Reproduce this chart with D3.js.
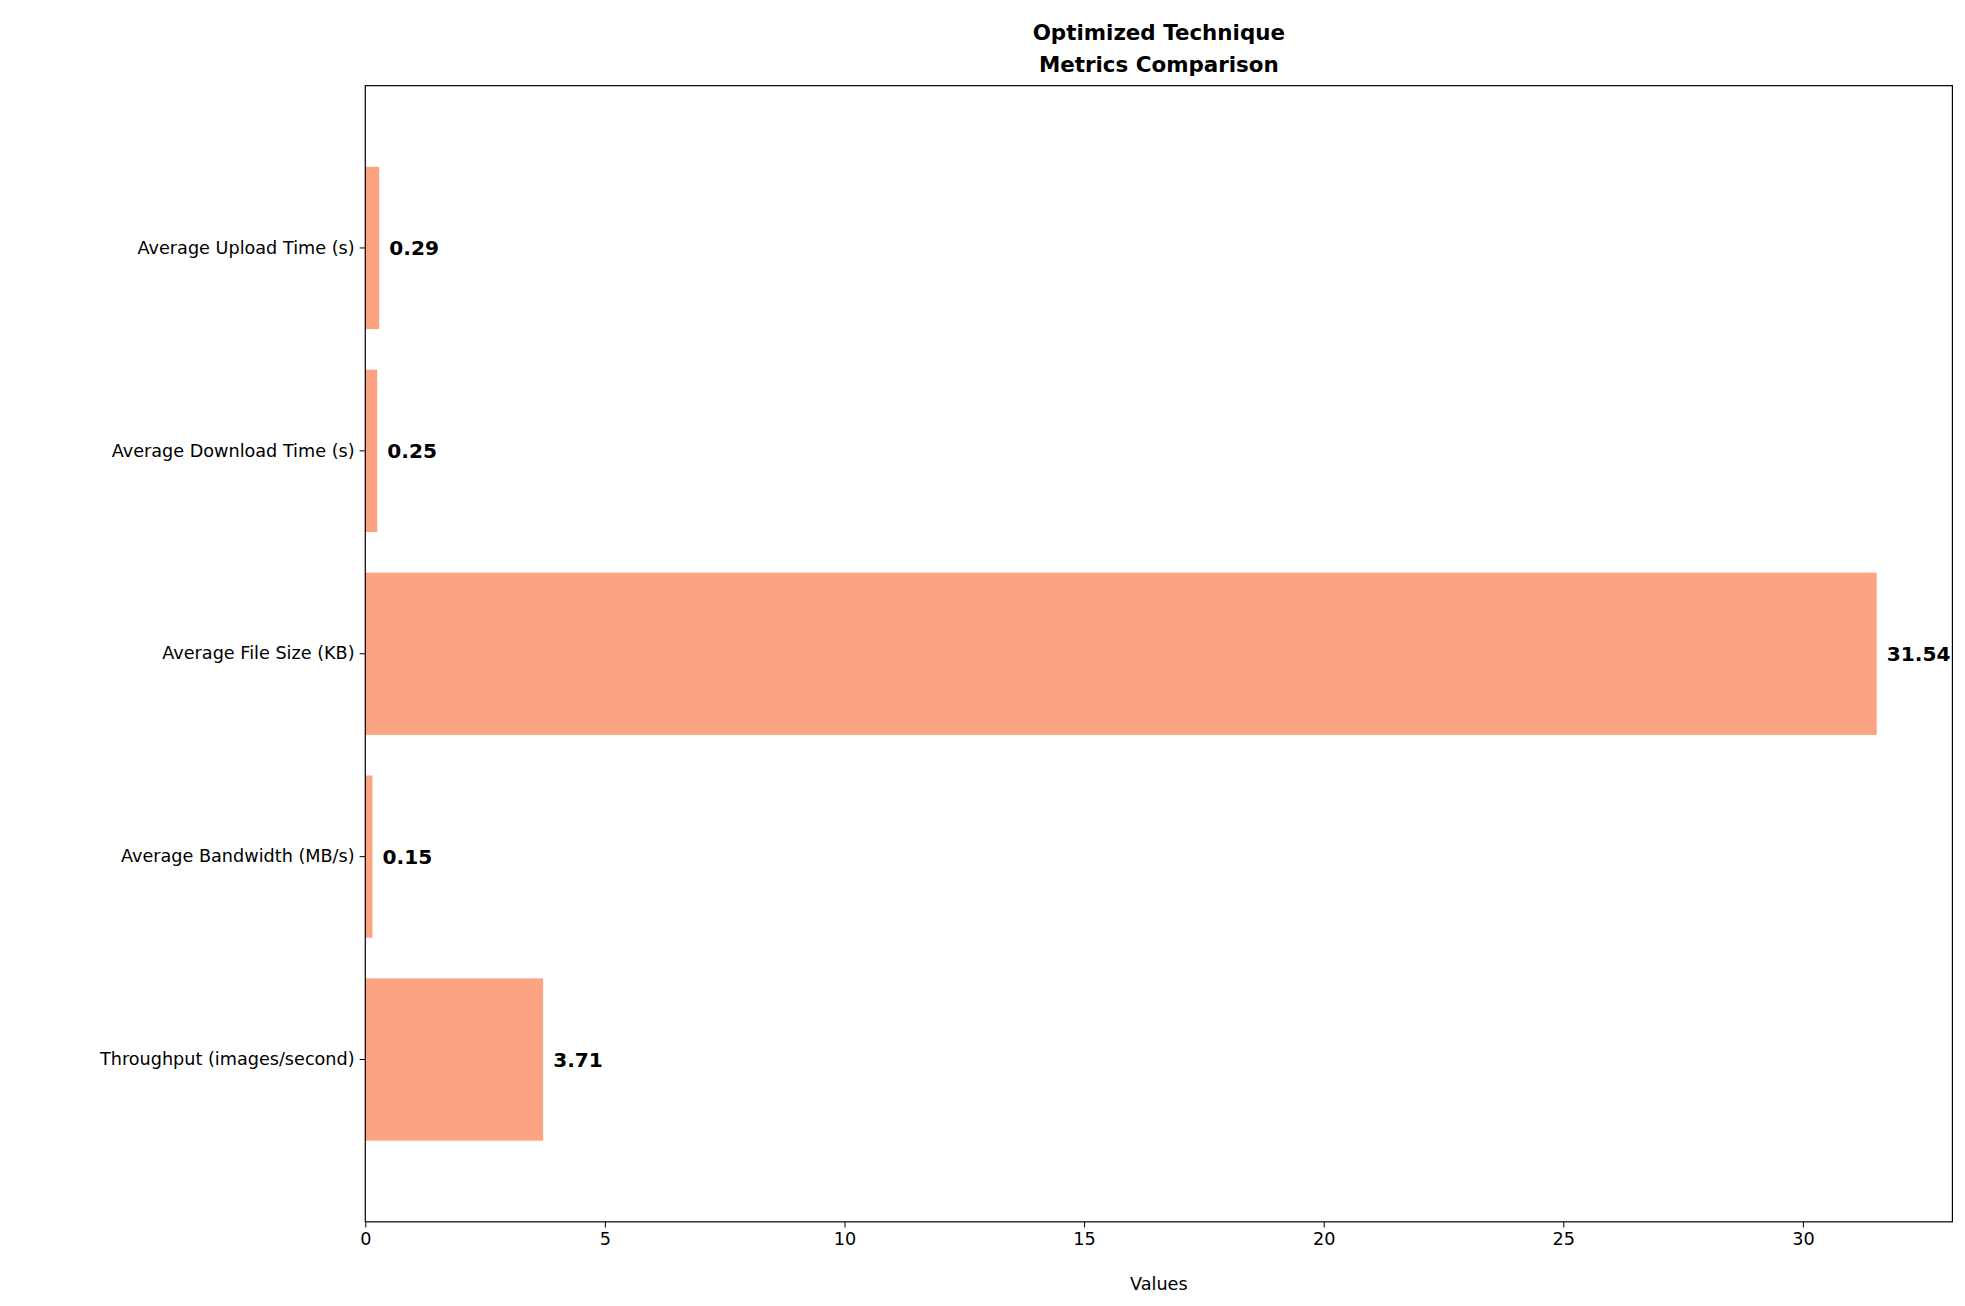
<!DOCTYPE html><html><head><script src="https://cdn.jsdelivr.net/npm/d3@7"></script>
<style>body{margin:0;background:#fff}text{font-family:"DejaVu Sans",sans-serif}</style></head><body>
<svg id="c" width="1965" height="1306"></svg>
<script>
const categories=["Average Upload Time (s)","Average Download Time (s)","Average File Size (KB)","Average Bandwidth (MB/s)","Throughput (images/second)"];
const values=[0.29,0.25,31.54,0.15,3.71];
const labels=["0.29","0.25","31.54","0.15","3.71"];
const xTicks=[0,5,10,15,20,25,30];
const k=1965/1560;
const m={l:290*k,r:1550*k,t:68*k,b:970*k};
const svg=d3.select("#c");
const x=d3.scaleLinear().domain([0,33.12]).range([m.l,m.r]);
const y=d3.scaleBand().domain(categories).range([m.t,m.b]).paddingInner(0.2).paddingOuter(0.4);
svg.selectAll("rect.bar").data(values).join("rect").attr("x",x(0)).attr("y",(d,i)=>y(categories[i]))
 .attr("width",d=>x(d)-x(0)).attr("height",y.bandwidth()).attr("fill","#FCA482");
svg.selectAll("text.v").data(values).join("text").attr("x",d=>x(d)+8*k).attr("y",(d,i)=>y(categories[i])+y.bandwidth()/2)
 .attr("dy","0.35em").attr("font-size",16*k).attr("font-weight","bold").text((d,i)=>labels[i]);
const ax=svg.append("g").attr("transform",`translate(0,${m.b})`).call(d3.axisBottom(x).tickValues(xTicks).tickSize(4.5*k).tickPadding(4*k));
ax.selectAll("text").attr("font-size",14*k).attr("font-family","DejaVu Sans");
const ay=svg.append("g").attr("transform",`translate(${m.l},0)`).call(d3.axisLeft(y).tickSize(4.5*k).tickPadding(4*k));
ay.selectAll("text").attr("font-size",14*k).attr("font-family","DejaVu Sans");
[ax,ay].forEach(a=>a.select(".domain").remove());
svg.append("rect").attr("x",m.l).attr("y",m.t).attr("width",m.r-m.l).attr("height",m.b-m.t).attr("fill","none").attr("stroke","#000").attr("stroke-width",1.2);
svg.append("text").attr("x",(m.l+m.r)/2).attr("y",(m.b+30*k+14*k)).attr("font-size",14*k).attr("text-anchor","middle").attr("dy","0.7em").text("Values");
const t=svg.append("text").attr("text-anchor","middle").attr("font-size",17*k).attr("font-weight","bold");
t.append("tspan").attr("x",(m.l+m.r)/2).attr("y",32*k).text("Optimized Technique");
t.append("tspan").attr("x",(m.l+m.r)/2).attr("y",57*k).text("Metrics Comparison");
</script></body></html>
